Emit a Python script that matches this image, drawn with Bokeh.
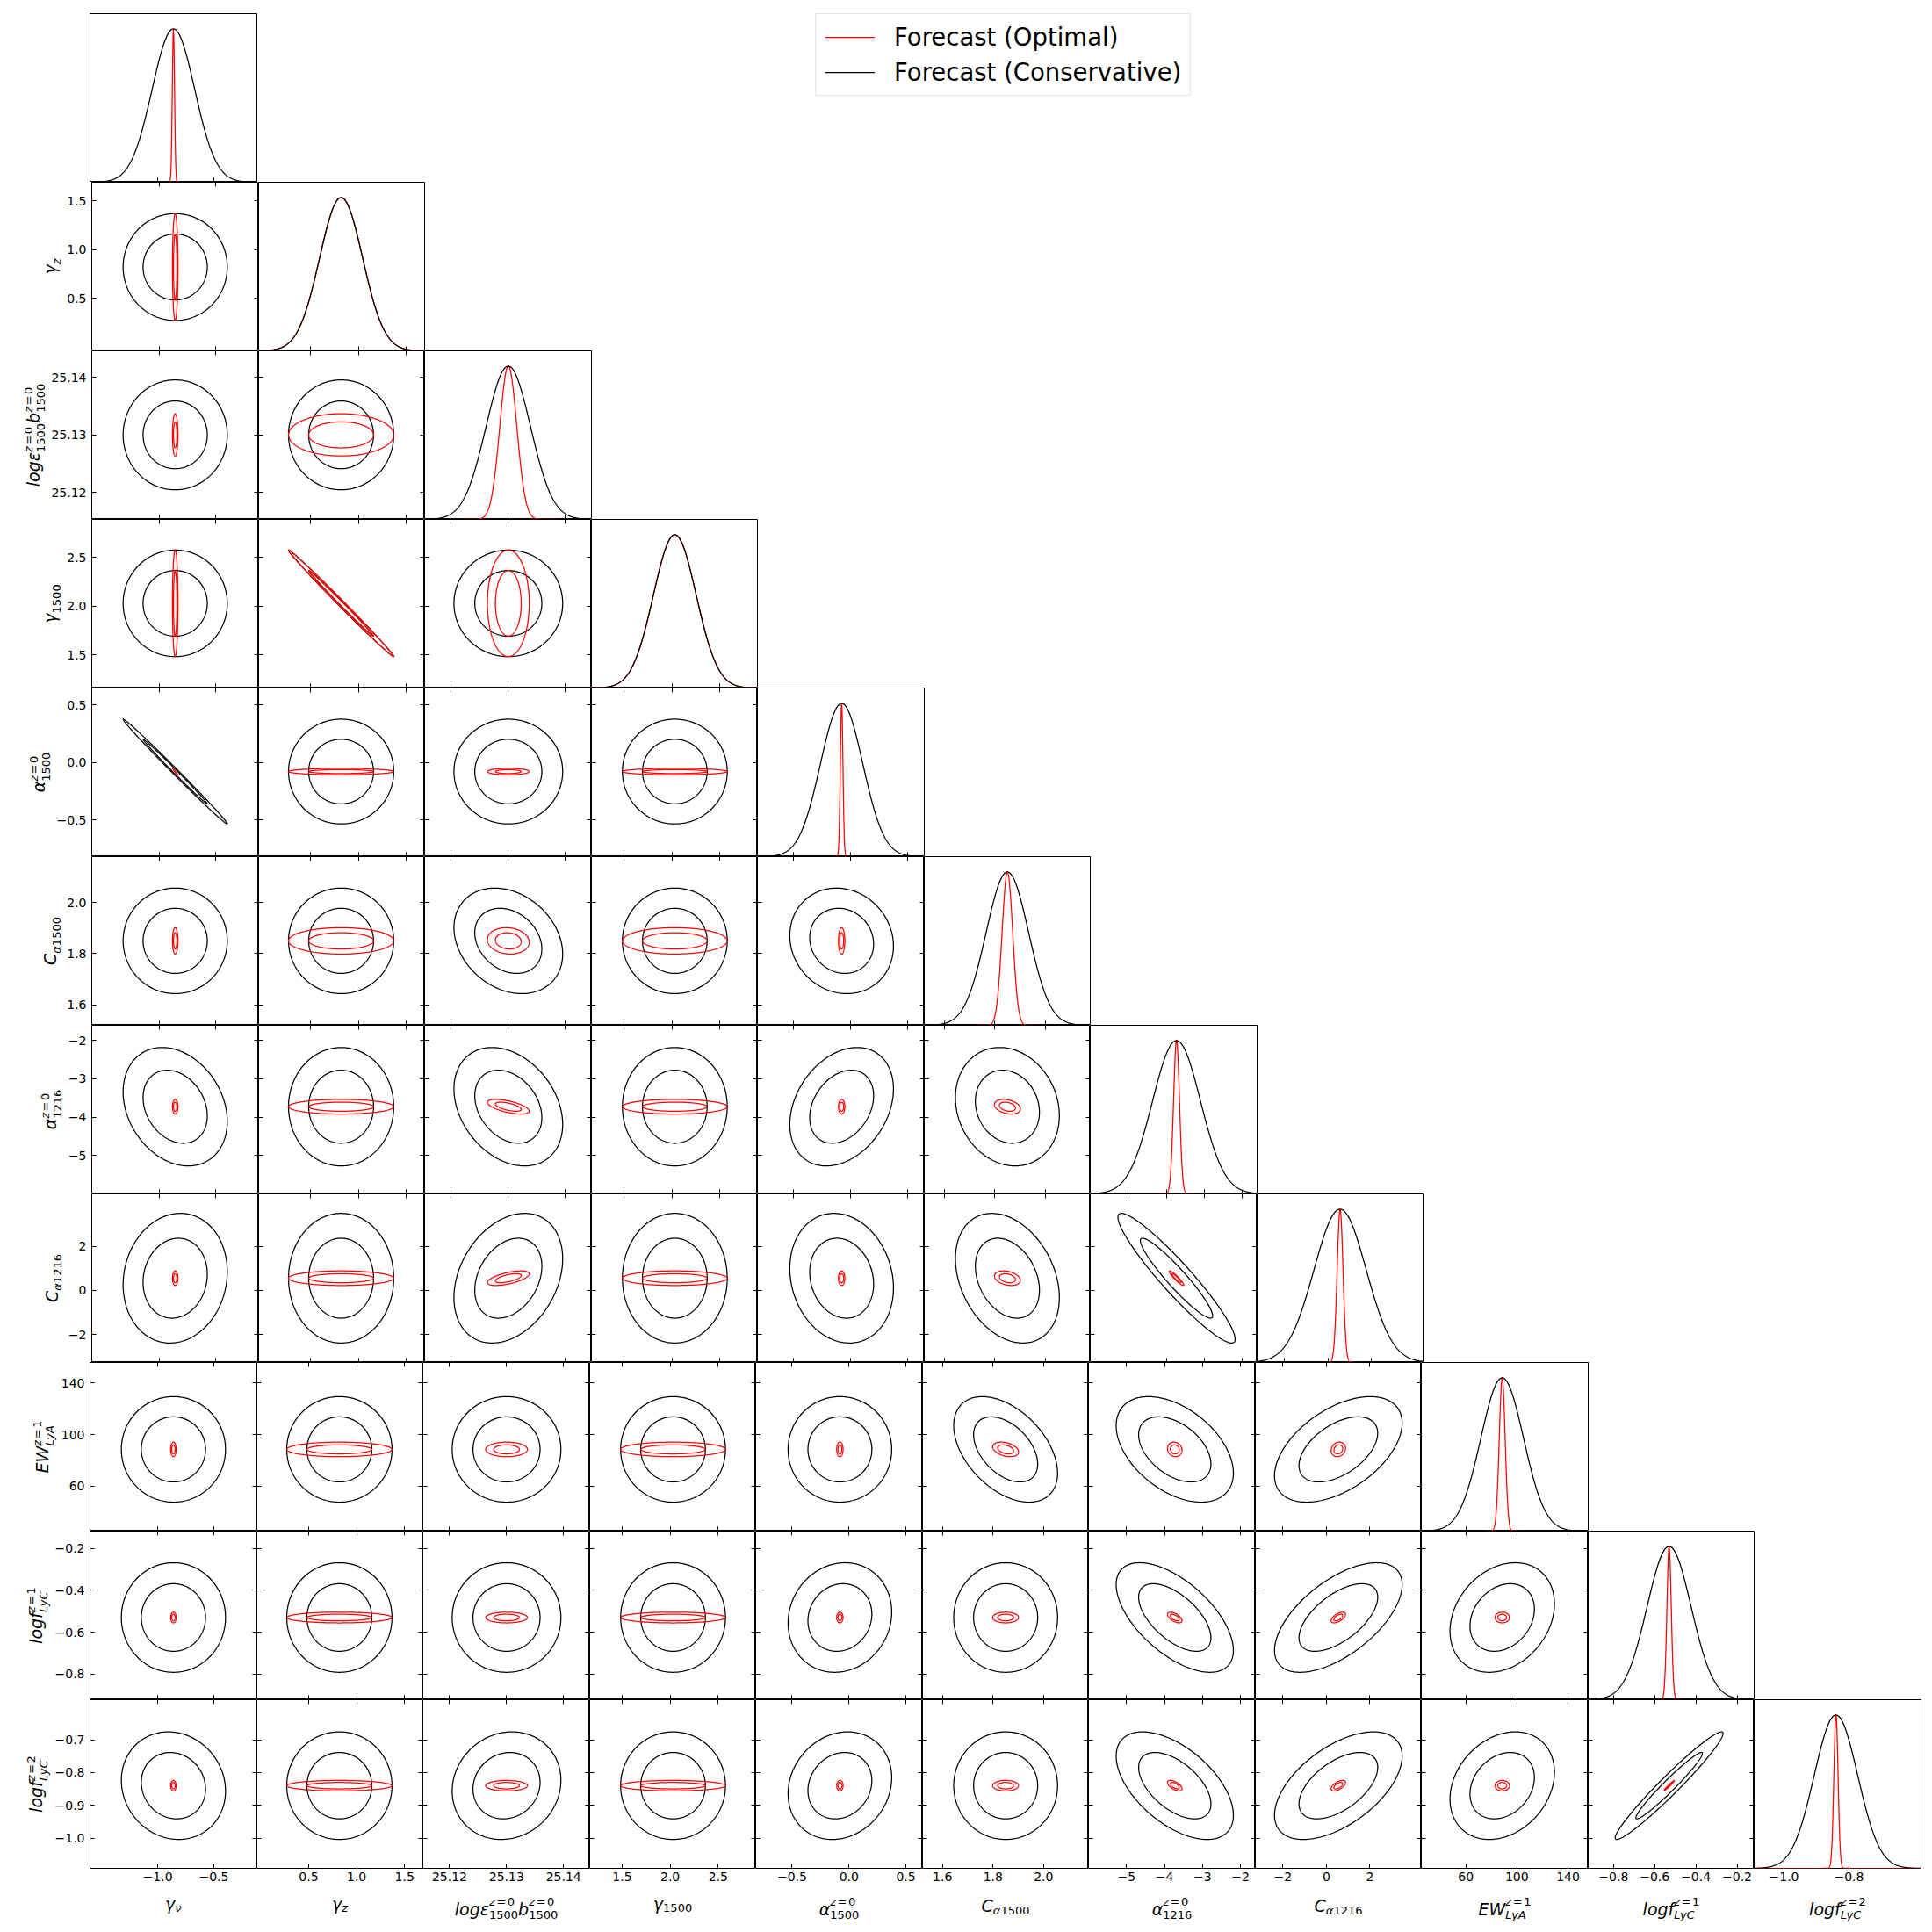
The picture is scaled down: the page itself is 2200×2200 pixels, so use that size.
import math
import numpy as np
from bokeh.plotting import figure
from bokeh.models import Range1d, LinearAxis, FixedTicker, Label, Legend, LegendItem
from bokeh.layouts import column, row
from bokeh.embed import file_html
from bokeh.resources import INLINE

# ---------------- data ----------------
param_keys = ["gamma_nu", "gamma_z", "log_eps_b", "gamma_1500", "alpha_1500",
              "C_alpha1500", "alpha_1216", "C_alpha1216", "EW_LyA", "logf_LyC_1", "logf_LyC_2"]

fiducial   = [-0.86, 0.82, 25.130, 2.03, -0.08, 1.85, -3.73, 0.55, 88.5, -0.53, -0.84]
sigma_cons = [0.19, 0.224, 0.0039, 0.223, 0.186, 0.084, 0.63, 1.2, 16.7, 0.107, 0.067]
sigma_opt  = [0.010, 0.224, 0.0015, 0.223, 0.0115, 0.021, 0.078, 0.135, 2.3, 0.0105, 0.0065]

axis_lo = [-1.605, -0.04, 25.1153, 1.162, -0.82, 1.521, -6.0, -3.27, 25.2, -0.923, -1.092]
axis_hi = [-0.115, 1.69, 25.1446, 2.890, 0.646, 2.178, -1.61, 4.37, 155.8, -0.117, -0.578]

x_ticks = [[-1.0, -0.5], [0.5, 1.0, 1.5], [25.12, 25.13, 25.14], [1.5, 2.0, 2.5],
           [-0.5, 0.0, 0.5], [1.6, 1.8, 2.0], [-5, -4, -3, -2], [-2, 0, 2],
           [60, 100, 140], [-0.8, -0.6, -0.4, -0.2], [-1.0, -0.8]]
x_tick_labels = [["−1.0", "−0.5"], ["0.5", "1.0", "1.5"], ["25.12", "25.13", "25.14"],
                 ["1.5", "2.0", "2.5"], ["−0.5", "0.0", "0.5"], ["1.6", "1.8", "2.0"],
                 ["−5", "−4", "−3", "−2"], ["−2", "0", "2"], ["60", "100", "140"],
                 ["−0.8", "−0.6", "−0.4", "−0.2"], ["−1.0", "−0.8"]]
y_ticks = [[], [0.5, 1.0, 1.5], [25.12, 25.13, 25.14], [1.5, 2.0, 2.5],
           [-0.5, 0.0, 0.5], [1.6, 1.8, 2.0], [-5, -4, -3, -2], [-2, 0, 2],
           [60, 100, 140], [-0.8, -0.6, -0.4, -0.2], [-1.0, -0.9, -0.8, -0.7]]
y_tick_labels = [[], ["0.5", "1.0", "1.5"], ["25.12", "25.13", "25.14"],
                 ["1.5", "2.0", "2.5"], ["−0.5", "0.0", "0.5"], ["1.6", "1.8", "2.0"],
                 ["−5", "−4", "−3", "−2"], ["−2", "0", "2"], ["60", "100", "140"],
                 ["−0.8", "−0.6", "−0.4", "−0.2"], ["−1.0", "−0.9", "−0.8", "−0.7"]]

# pairwise correlations (i, j, rho); pairs not listed are uncorrelated
corr_cons = [(1, 3, -0.997), (0, 4, -0.997),
             (2, 5, -0.25), (4, 5, -0.1),
             (0, 6, -0.25), (2, 6, -0.3), (4, 6, 0.3), (5, 6, -0.15),
             (0, 7, 0.1), (2, 7, 0.3), (4, 7, -0.15), (5, 7, -0.3), (6, 7, -0.94),
             (5, 8, -0.45), (6, 8, -0.45), (7, 8, 0.5),
             (4, 9, 0.1), (6, 9, -0.6), (7, 9, 0.6), (8, 9, 0.25),
             (0, 10, -0.1), (2, 10, 0.1), (4, 10, 0.15), (6, 10, -0.55), (7, 10, 0.55),
             (8, 10, 0.25), (9, 10, 0.97)]
corr_opt = [(1, 3, -0.997), (0, 4, -0.997),
            (2, 5, -0.1), (2, 6, -0.6), (2, 7, 0.6), (5, 6, -0.3), (5, 7, -0.3), (6, 7, -0.93),
            (5, 8, -0.35), (6, 8, -0.1), (7, 8, 0.15),
            (6, 9, -0.6), (7, 9, 0.6), (6, 10, -0.6), (7, 10, 0.6), (9, 10, 0.98)]

# axis labels: (text, kind) with kind n=normal, b=subscript, p=superscript,
# s=subscript stacked under the preceding superscript
label_parts = [
    [("γ", "n"), ("ν", "b")],
    [("γ", "n"), ("z", "b")],
    [("logε", "n"), ("z=0", "p"), ("1500", "s"), ("b", "n"), ("z=0", "p"), ("1500", "s")],
    [("γ", "n"), ("1500", "b")],
    [("α", "n"), ("z=0", "p"), ("1500", "s")],
    [("C", "n"), ("α1500", "b")],
    [("α", "n"), ("z=0", "p"), ("1216", "s")],
    [("C", "n"), ("α1216", "b")],
    [("EW", "n"), ("z=1", "p"), ("LyA", "s")],
    [("logf", "n"), ("z=1", "p"), ("LyC", "s")],
    [("logf", "n"), ("z=2", "p"), ("LyC", "s")],
]
legend_labels = ["Forecast (Optimal)", "Forecast (Conservative)"]
series_colors = ["#ff0000", "#000000"]

# ---------------- styling / layout ----------------
N = len(fiducial)
FW = [190 if c % 2 == 0 else 189 for c in range(N)]
FH = 192
LEFT, TOP = 102, 15
BT = 21          # bottom border of last panel row (tick labels)
XLH = 46         # height of the x-label strip
FONT = "DejaVu Sans"
F_TICK, F_MAIN, F_SUB = 14, 19, 13
LW = 1.25
BOX_ASC, BOX_DESC, MID = 0.93, 0.24, 0.345

W_EM = {'.': 0.318, '−': 0.838, '=': 0.838, 'l': 0.278, 'o': 0.612, 'g': 0.635, 'b': 0.635,
        'f': 0.352, 'z': 0.525, 'y': 0.592, 'C': 0.698, 'E': 0.632, 'W': 0.989, 'L': 0.557,
        'A': 0.684, 'γ': 0.592, 'ν': 0.592, 'α': 0.659, 'ε': 0.541}
for d in "0123456789":
    W_EM[d] = 0.636


def tw(s, size):
    return sum(W_EM.get(ch, 0.62) for ch in s) * size


def split_runs(text):
    out = []
    for ch in text:
        it = ch.isalpha()
        if out and out[-1][1] == it and ch != '=' and out[-1][0][-1] != '=':
            out[-1][0] += ch
        else:
            out.append([ch, it])
    return out


def asc_em(run):
    if any(c in "lbdfhkt" for c in run):
        return 0.76
    if any(c.isupper() or c.isdigit() for c in run):
        return 0.73
    return 0.55


def desc_em(run):
    return 0.23 if any(c in "gypqjγ" for c in run) else 0.0


def layout_label(parts):
    items = []
    pos = 0.0
    sup_start = sup_end = 0.0
    shifts = {"n": 0.0, "p": 0.40 * F_MAIN, "b": -0.25 * F_MAIN, "s": -0.36 * F_MAIN}
    for text, kind in parts:
        size = F_MAIN if kind == "n" else F_SUB
        shift = shifts[kind]
        start = sup_start if kind == "s" else pos
        x = start
        for run, it in split_runs(text):
            if run == "=":
                x += 0.12 * size
                items.append((run, False, size, x, shift))
                x += tw(run, size) + 0.12 * size
            else:
                items.append((run, it, size, x, shift))
                x += tw(run, size)
        if kind == "p":
            sup_start, sup_end = start, x
            pos = x
        elif kind == "s":
            pos = max(sup_end, x)
        else:
            pos = x
    ext = dict(
        asc=max(sh + sz * asc_em(t) for t, _, sz, _, sh in items),
        desc=max(-sh + sz * desc_em(t) for t, _, sz, _, sh in items),
        asc_box=max(sh + sz * BOX_ASC for t, _, sz, _, sh in items),
        desc_box=max(-sh + sz * BOX_DESC for t, _, sz, _, sh in items),
    )
    return items, pos, ext


def corr_matrix(pairs):
    R = np.eye(N)
    for i, j, rho in pairs:
        R[i, j] = R[j, i] = rho
    return R


R_opt = corr_matrix(corr_opt)
R_cons = corr_matrix(corr_cons)
K68 = np.sqrt(-2 * np.log(1 - 0.68))
K95 = np.sqrt(-2 * np.log(1 - 0.95))
T = np.linspace(0, 2 * np.pi, 361)


def blank_fig(w, h, left=0, bottom=0, top=0):
    return figure(frame_width=w, frame_height=h, x_range=Range1d(0, w), y_range=Range1d(0, h),
                  x_axis_type=None, y_axis_type=None, toolbar_location=None, tools="",
                  output_backend="svg", min_border_left=left, min_border_right=0,
                  min_border_top=top, min_border_bottom=bottom, outline_line_color=None,
                  background_fill_color="white", border_fill_color="white")


def text_label(x, y, text, it, size, angle=0.0, align="left", baseline="alphabetic"):
    return Label(x=x, y=y, text=text, text_font=FONT, text_font_size=f"{size}px",
                 text_font_style="italic" if it else "normal", text_color="black",
                 text_align=align, text_baseline=baseline, angle=angle)


def add_axis(p, side, ticks, labels, show, standoff):
    ax = LinearAxis(ticker=FixedTicker(ticks=list(ticks), minor_ticks=[]),
                    major_tick_in=5, major_tick_out=0, minor_tick_in=0, minor_tick_out=0,
                    axis_line_color=None, major_tick_line_color="black", major_tick_line_width=1)
    if show:
        ax.major_label_overrides = {float(t): l for t, l in zip(ticks, labels)}
        ax.major_label_text_font = FONT
        ax.major_label_text_font_size = f"{F_TICK}px"
        ax.major_label_text_color = "black"
        ax.major_label_standoff = standoff
    else:
        ax.major_label_overrides = {float(t): "" for t in ticks}
        ax.major_label_text_font_size = "0px"
        ax.major_label_standoff = 0
    p.add_layout(ax, side)


def ylabel_geometry(k):
    items, total, ext = layout_label(label_parts[k])
    maxw = max(tw(l, F_TICK) for l in y_tick_labels[k])
    xb = LEFT - (6 + maxw + 5.5 + ext["desc"])       # baseline, page x
    L = int(math.ceil(xb + ext["desc_box"] + 1))     # width of the label strip
    return items, total, xb, L


def make_ylabel_fig(k, bottom):
    items, total, xb, L = ylabel_geometry(k)
    p = blank_fig(L, FH, bottom=bottom)
    y0 = FH / 2 - total / 2
    for text, it, size, along, shift in items:
        cx = xb - shift - MID * size
        cy = y0 + along + tw(text, size) / 2
        p.add_layout(text_label(cx, cy, text, it, size, angle=np.pi / 2,
                                align="center", baseline="middle"))
    return p


def make_xlabel_fig(k, left):
    p = blank_fig(FW[k], XLH, left=left)
    items, total, ext = layout_label(label_parts[k])
    x0 = FW[k] / 2 - total / 2
    below = max(29 + ext["asc"], BT + 1.5 + ext["asc_box"])   # baseline below panel frame
    base_from_top = below - BT
    for text, it, size, along, shift in items:
        p.add_layout(text_label(x0 + along, XLH - base_from_top + shift, text, it, size))
    return p


def make_panel(r, c):
    diag = (r == c)
    last = (r == N - 1)
    if c == 0:
        left = LEFT if r == 0 else LEFT - ylabel_geometry(r)[3]
    else:
        left = 0
    p = figure(frame_width=FW[c], frame_height=FH,
               x_range=Range1d(axis_lo[c], axis_hi[c]),
               y_range=Range1d(0, 1.1) if diag else Range1d(axis_lo[r], axis_hi[r]),
               x_axis_type=None, y_axis_type=None, toolbar_location=None, tools="",
               output_backend="svg",
               min_border_left=left, min_border_right=1 if diag else 0,
               min_border_top=TOP if r == 0 else 0,
               min_border_bottom=BT if last else 0,
               outline_line_color="black", outline_line_width=1,
               background_fill_color="white", border_fill_color="white")
    add_axis(p, "below", x_ticks[c], x_tick_labels[c], last, 4)
    if diag:
        lo, hi = axis_lo[c], axis_hi[c]
        mu, sc, so = fiducial[c], sigma_cons[c], sigma_opt[c]
        xs = np.linspace(lo, hi, 600)
        xr = np.union1d(xs, np.linspace(mu - 6 * so, mu + 6 * so, 601))
        xr = xr[(xr >= lo) & (xr <= hi)]
        p.line(xr, np.exp(-0.5 * ((xr - mu) / so) ** 2), color=series_colors[0], line_width=LW)
        p.line(xs, np.exp(-0.5 * ((xs - mu) / sc) ** 2), color=series_colors[1], line_width=LW)
    else:
        add_axis(p, "left", y_ticks[r], y_tick_labels[r], c == 0, 6)
        add_axis(p, "above", x_ticks[c], x_tick_labels[c], False, 0)
        add_axis(p, "right", y_ticks[r], y_tick_labels[r], False, 0)
        for R, sig, col in [(R_cons, sigma_cons, series_colors[1]), (R_opt, sigma_opt, series_colors[0])]:
            rho = R[c, r]
            for k in (K68, K95):
                ex = fiducial[c] + k * sig[c] * np.cos(T)
                ey = fiducial[r] + k * sig[r] * (rho * np.cos(T) + np.sqrt(1 - rho ** 2) * np.sin(T))
                p.line(ex, ey, color=col, line_width=LW)
    return p


# legend holder (to the right of the first panel)
leg_fig = figure(frame_width=470, frame_height=FH, x_range=Range1d(0, 1), y_range=Range1d(0, 1),
                 x_axis_type=None, y_axis_type=None, toolbar_location=None, tools="",
                 output_backend="svg", min_border_left=635, min_border_right=0,
                 min_border_top=TOP, min_border_bottom=0, outline_line_color=None,
                 background_fill_color="white", border_fill_color="white")
r_opt = leg_fig.line(x=[np.nan], y=[np.nan], color=series_colors[0], line_width=LW)
r_cons = leg_fig.line(x=[np.nan], y=[np.nan], color=series_colors[1], line_width=LW)
legend = Legend(items=[LegendItem(label=legend_labels[0], renderers=[r_opt]),
                       LegendItem(label=legend_labels[1], renderers=[r_cons])],
                location="top_left", margin=0, padding=10, spacing=8,
                label_text_font=FONT, label_text_font_size="27.5px", label_text_color="black",
                label_standoff=22, glyph_width=57, glyph_height=30, label_height=30,
                border_line_color="#cccccc", border_line_width=1,
                background_fill_color="white", background_fill_alpha=1.0)
leg_fig.add_layout(legend)

rows = []
for r in range(N):
    figs = [make_panel(r, c) for c in range(r + 1)]
    if r == 0:
        figs.append(leg_fig)
    else:
        figs.insert(0, make_ylabel_fig(r, BT if r == N - 1 else 0))
    rows.append(row(*figs))
rows.append(row(*[make_xlabel_fig(c, LEFT if c == 0 else 0) for c in range(N)]))
page = column(*rows)

open("out.html", "w").write(file_html(page, INLINE, title="Fisher forecast corner plot"))
